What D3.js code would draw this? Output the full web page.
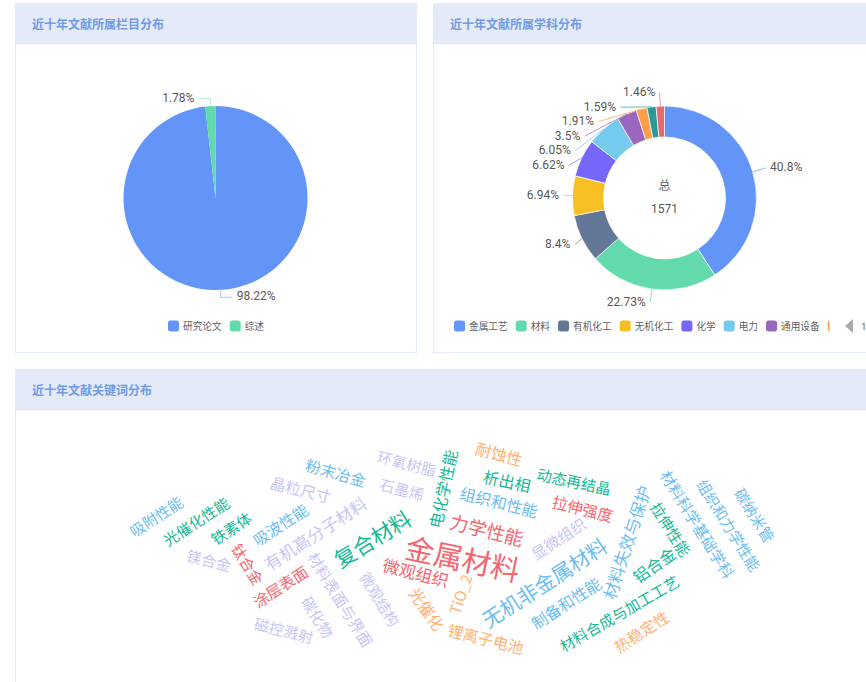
<!DOCTYPE html>
<html>
<head>
<meta charset="utf-8">
<style>
    body { margin: 0; background: #fff; overflow: hidden; }
    svg { display: block; font-family: "Noto Sans CJK SC", sans-serif; }
    .num { font-family: Roboto, sans-serif; }
</style>
<script src="https://cdn.jsdelivr.net/npm/d3@7"></script>
</head>
<body>
<svg id="chart" width="866" height="682"></svg>
<script>
const columnNames = ["研究论文", "综述"];
const columnValues = [98.22, 1.78];

const subjectNames = ["金属工艺", "材料", "有机化工", "无机化工", "化学", "电力", "通用设备", "", "", ""];
const subjectValues = [40.8, 22.73, 8.4, 6.94, 6.62, 6.05, 3.5, 1.91, 1.59, 1.46];
const subjectTotal = 1571;

// word cloud, x/y are in units of the bottom panel body
const keywords = ["金属材料", "复合材料", "力学性能", "无机非金属材料", "材料失效与保护", "电化学性能", "组织和性能", "耐蚀性", "析出相", "动态再结晶",
    "拉伸强度", "显微组织", "材料科学基础学科", "组织和力学性能", "碳纳米管", "拉伸性能", "铝合金", "制备和性能", "材料合成与加工工艺", "热稳定性",
    "锂离子电池", "TiO_2", "光催化", "微观组织", "微观结构", "材料表面与界面", "有机高分子材料", "吸波性能", "晶粒尺寸", "粉末冶金",
    "环氧树脂", "石墨烯", "吸附性能", "光催化性能", "铁素体", "镁合金", "钛合金", "涂层表面", "碳化物", "磁控溅射"];
const keywordX = [448, 357, 472, 529, 611, 428, 484, 484, 492, 559, 568, 543, 683, 714, 740, 656, 639, 551, 604, 626,
    471, 445, 412, 401, 365, 326, 300, 265, 286, 321, 392, 387, 141, 181, 216, 194, 233, 265, 303, 269];
const keywordY = [148, 129, 120, 173, 133, 80, 93, 45, 72, 72, 99, 129, 115, 116, 106, 120, 156, 194, 204, 222,
    229, 185, 200, 163, 190, 190, 124, 115, 80, 63, 54, 80, 107, 112, 119, 151, 155, 177, 208, 221];
const keywordAngle = [12, -32, 14, -33, -72, -78, 14, 15, 12, 12, 14, -33, 58, 58, 58, 58, -35, -33, -30, -33,
    14, -72, 55, 14, 58, 58, -33, -33, 14, 16, 14, 14, -33, -33, -33, 14, 58, -33, 58, 14];
const keywordWeight = [29, 21, 18, 20, 16, 15, 15, 15, 15, 14, 14.5, 14.5, 14.5, 14, 14, 14, 15, 15, 14, 14.5,
    14.5, 14, 15, 16, 14, 14.5, 16, 14.5, 14.5, 14.5, 14, 14, 14, 14, 14, 14, 14, 14.5, 14, 14];
const keywordGroup = [0, 1, 0, 2, 2, 1, 2, 4, 1, 1, 0, 3, 2, 2, 2, 1, 1, 2, 1, 4,
    4, 4, 4, 0, 3, 3, 3, 2, 3, 2, 3, 3, 2, 1, 1, 3, 0, 0, 3, 3];

const palette = ["#6395f9", "#62daab", "#657798", "#f6c022", "#7666f9", "#74cbed", "#9967bd", "#ff9e4a", "#299999", "#e8686f"];
const groupColors = ["#f4666f", "#14b894", "#6cbdf2", "#c6c6f5", "#ffb070"];

const svg = d3.select("#chart");

// panels
const drawPanel = (x, y, w, h, title) => {
    svg.append("rect")
        .attr("x", x + 0.5).attr("y", y + 0.5)
        .attr("width", w).attr("height", h)
        .attr("fill", "#fff")
        .attr("stroke", "#e4eaf7");
    svg.append("rect")
        .attr("x", x).attr("y", y)
        .attr("width", w + 1).attr("height", 40)
        .attr("fill", "#e4eaf7");
    svg.append("line")
        .attr("x1", x).attr("x2", x + w + 1)
        .attr("y1", y + 40.5).attr("y2", y + 40.5)
        .attr("stroke", "#dde3f2");
    svg.append("text")
        .attr("x", x + 17).attr("y", y + 20)
        .attr("dominant-baseline", "central")
        .attr("font-size", 12)
        .attr("font-weight", 700)
        .attr("fill", "#6f9be8")
        .text(title);
};

drawPanel(15, 3, 401, 349, "近十年文献所属栏目分布");
drawPanel(433, 3, 460, 349, "近十年文献所属学科分布");
drawPanel(15, 369, 878, 340, "近十年文献关键词分布");

const outerRadius = 92;
const labelRadius = 105.5;
const lineRadius = 101;
const labelGap = 14.5;

const pieLayout = d3.pie().sort(null).value(d => d);

const legendItems = (names, startX, clipId, clipWidth) => {
    const g = svg.append("g");
    if (clipId) {
        svg.append("clipPath").attr("id", clipId).append("rect")
            .attr("x", startX).attr("y", 310).attr("width", clipWidth).attr("height", 30);
        g.attr("clip-path", `url(#${clipId})`);
    }
    let x = startX;
    names.forEach((name, i) => {
        g.append("rect")
            .attr("x", x).attr("y", 320.5)
            .attr("width", 11).attr("height", 11)
            .attr("rx", 2.5)
            .attr("fill", palette[i]);
        g.append("text")
            .attr("x", x + 15).attr("y", 326)
            .attr("dominant-baseline", "central")
            .attr("font-size", 9.7)
            .attr("fill", "#5f5f5f")
            .text(name);
        x += 15 + name.length * 9.7 + 7.9;
    });
};

// left pie
const pieCx = 215.5, pieCy = 198;
const pieG = svg.append("g").attr("transform", `translate(${pieCx},${pieCy})`);
const pieArc = d3.arc().innerRadius(0).outerRadius(outerRadius);
const pieData = pieLayout(columnValues);

pieG.selectAll("path.slice")
    .data(pieData)
    .join("path")
    .attr("class", "slice")
    .attr("d", pieArc)
    .attr("fill", (d, i) => palette[i]);

pieData.forEach((d, i) => {
    const mid = (d.startAngle + d.endAngle) / 2;
    const sx = Math.sin(mid) * outerRadius, sy = -Math.cos(mid) * outerRadius;
    const ey = -Math.cos(mid) * (outerRadius + 7.5);
    const dir = sx >= 0 ? 1 : -1;
    pieG.append("path")
        .attr("d", d3.line()([[sx, sy], [sx, ey], [sx + dir * 12, ey]]))
        .attr("fill", "none")
        .attr("stroke", palette[i])
        .attr("stroke-opacity", 0.5);
    pieG.append("text")
        .attr("class", "num")
        .attr("x", sx + dir * 16)
        .attr("y", ey - 1)
        .attr("text-anchor", dir > 0 ? "start" : "end")
        .attr("dominant-baseline", "central")
        .attr("font-size", 12)
        .attr("fill", "#595959")
        .text(columnValues[i] + "%");
});

legendItems(columnNames, 168);

// donut
const donutCx = 664.5, donutCy = 198;
const donutG = svg.append("g").attr("transform", `translate(${donutCx},${donutCy})`);
const donutArc = d3.arc().innerRadius(61).outerRadius(outerRadius);
const donutData = pieLayout(subjectValues);

donutG.selectAll("path.slice")
    .data(donutData)
    .join("path")
    .attr("class", "slice")
    .attr("d", donutArc)
    .attr("fill", (d, i) => palette[i])
    .attr("stroke", "#fff")
    .attr("stroke-width", 0.7);

// labels sit on an outer circle, left side ones get pushed down so they don't overlap
const donutLabels = donutData.map((d, i) => {
    const mid = (d.startAngle + d.endAngle) / 2;
    return {
        i,
        side: Math.sin(mid) >= 0 ? 1 : -1,
        sx: Math.sin(mid) * outerRadius,
        sy: -Math.cos(mid) * outerRadius,
        rx: Math.abs(Math.sin(mid)) * labelRadius,
        ly: -Math.cos(mid) * labelRadius
    };
});

const leftLabels = donutLabels.filter(l => l.side < 0).sort((a, b) => a.ly - b.ly);
leftLabels.forEach((l, k) => {
    if (k > 0) l.ly = Math.max(l.ly, leftLabels[k - 1].ly + labelGap);
});

donutLabels.forEach(l => {
    const onCircle = l.side < 0 && Math.abs(l.ly) < lineRadius;
    const lx = l.side * (onCircle ? Math.sqrt(lineRadius * lineRadius - l.ly * l.ly) : l.rx);
    donutG.append("line")
        .attr("x1", l.sx).attr("y1", l.sy)
        .attr("x2", lx).attr("y2", l.ly)
        .attr("stroke", palette[l.i])
        .attr("stroke-opacity", 0.7);
    donutG.append("text")
        .attr("class", "num")
        .attr("x", lx + l.side * 4.5)
        .attr("y", l.ly - 0.5)
        .attr("text-anchor", l.side > 0 ? "start" : "end")
        .attr("dominant-baseline", "central")
        .attr("font-size", 12)
        .attr("fill", "#595959")
        .text(subjectValues[l.i] + "%");
});

donutG.append("text")
    .attr("y", -14)
    .attr("text-anchor", "middle")
    .attr("dominant-baseline", "central")
    .attr("font-size", 12)
    .attr("fill", "#595959")
    .text("总");
donutG.append("text")
    .attr("class", "num")
    .attr("y", 11)
    .attr("text-anchor", "middle")
    .attr("dominant-baseline", "central")
    .attr("font-size", 12)
    .attr("fill", "#595959")
    .text(subjectTotal);

legendItems(subjectNames.slice(0, 8), 454, "legendClip", 375.5);

// legend pager
svg.append("path")
    .attr("d", d3.line()([[845, 326], [853, 319], [853, 333]]) + "Z")
    .attr("fill", "#aaa");
svg.append("text")
    .attr("class", "num")
    .attr("x", 861).attr("y", 326)
    .attr("dominant-baseline", "central")
    .attr("font-size", 9.7)
    .attr("fill", "#5f5f5f")
    .text("1/2");

// word cloud
const cloudX = d3.scaleLinear().domain([0, 851]).range([15, 866]);
const cloudY = d3.scaleLinear().domain([0, 273]).range([409, 682]);
const cloudSize = d3.scaleLinear().domain([14, 29]).range([15, 29]);

svg.append("g")
    .selectAll("text")
    .data(keywords)
    .join("text")
    .attr("transform", (d, i) => `translate(${cloudX(keywordX[i])},${cloudY(keywordY[i])}) rotate(${keywordAngle[i]})`)
    .attr("text-anchor", "middle")
    .attr("dominant-baseline", "central")
    .attr("font-size", (d, i) => cloudSize(keywordWeight[i]))
    .attr("fill", (d, i) => groupColors[keywordGroup[i]])
    .text(d => d);
</script>
</body>
</html>
